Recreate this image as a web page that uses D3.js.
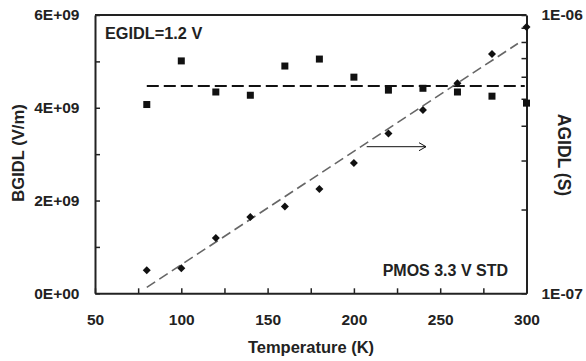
<!DOCTYPE html>
<html>
<head>
<meta charset="utf-8">
<script src="https://cdn.jsdelivr.net/npm/d3@7"></script>
<style>
  body { margin: 0; background: #fff; }
  svg text { font-family: "Liberation Sans", Arial, sans-serif; font-weight: bold; fill: #222; }
</style>
</head>
<body>
<div id="chart"></div>
<script>
// data
const temps = [80, 100, 120, 140, 160, 180, 200, 220, 240, 260, 280, 300];
const bgidl = [4.07e9, 5.01e9, 4.34e9, 4.27e9, 4.90e9, 5.05e9, 4.66e9, 4.38e9, 4.42e9, 4.34e9, 4.25e9, 4.10e9];
const agidl = [1.21e-7, 1.23e-7, 1.58e-7, 1.88e-7, 2.05e-7, 2.37e-7, 2.94e-7, 3.75e-7, 4.56e-7, 5.68e-7, 7.24e-7, 9.05e-7];
const bgidlMean = 4.47e9;
const agidlFit = [[80, 1.05e-7], [295, 7.9e-7]];
const xTicks = [50, 75, 100, 125, 150, 175, 200, 225, 250, 275, 300];
const yLeftTicks = [0, 1e9, 2e9, 3e9, 4e9, 5e9, 6e9];
const yRightTicks = [1e-7, 2e-7, 3e-7, 4e-7, 5e-7, 6e-7, 7e-7, 8e-7, 9e-7, 1e-6];

const width = 586, height = 361;
const margin = { top: 15, right: 59.5, bottom: 67.7, left: 95 };

const svg = d3.select("#chart").append("svg")
  .attr("width", width).attr("height", height);

const x = d3.scaleLinear().domain([50, 300]).range([margin.left, width - margin.right]);
const yL = d3.scaleLinear().domain([0, 6e9]).range([height - margin.bottom, margin.top]);
const yR = d3.scaleLog().domain([1e-7, 1e-6]).range([height - margin.bottom, margin.top]);

// frame top line
svg.append("line")
  .attr("x1", x(50)).attr("x2", x(300))
  .attr("y1", margin.top).attr("y2", margin.top)
  .attr("stroke", "#222").attr("stroke-width", 2);

// axes
const xAxis = svg.append("g")
  .attr("transform", `translate(0,${height - margin.bottom})`)
  .call(d3.axisBottom(x).tickValues(xTicks).tickSizeInner(-5).tickSizeOuter(0).tickPadding(21)
    .tickFormat(d => d % 50 === 0 ? d : ""));

const leftAxis = svg.append("g")
  .attr("transform", `translate(${margin.left},0)`)
  .call(d3.axisLeft(yL).tickValues(yLeftTicks).tickSizeInner(-5).tickSizeOuter(0).tickPadding(15.5)
    .tickFormat(d => d % 2e9 !== 0 ? "" : (d === 0 ? "0E+00" : (d / 1e9) + "E+09")));

const rightAxis = svg.append("g")
  .attr("transform", `translate(${width - margin.right},0)`)
  .call(d3.axisRight(yR).tickValues(yRightTicks).tickSizeInner(-5).tickSizeOuter(0).tickPadding(15)
    .tickFormat(d => d === 1e-7 ? "1E-07" : d === 1e-6 ? "1E-06" : ""));

[xAxis, leftAxis, rightAxis].forEach(g => {
  g.select(".domain").attr("stroke", "#222").attr("stroke-width", 2);
  g.selectAll(".tick line").attr("stroke", "#222").attr("stroke-width", 1.5);
  g.selectAll(".tick text").attr("font-size", 15.5).attr("fill", "#222")
    .style("font-family", "'Liberation Sans', Arial, sans-serif").style("font-weight", "bold");
});

// fit lines
svg.append("line")
  .attr("x1", x(80)).attr("x2", x(299))
  .attr("y1", yL(bgidlMean)).attr("y2", yL(bgidlMean))
  .attr("stroke", "#111").attr("stroke-width", 2)
  .attr("stroke-dasharray", "12,5");

svg.append("path")
  .datum(agidlFit)
  .attr("d", d3.line().x(d => x(d[0])).y(d => yR(d[1])))
  .attr("fill", "none").attr("stroke", "#666").attr("stroke-width", 1.6)
  .attr("stroke-dasharray", "10,5");

// squares (BGIDL)
svg.selectAll("rect.sq")
  .data(temps.map((t, i) => [t, bgidl[i]]))
  .join("rect")
  .attr("class", "sq")
  .attr("x", d => x(d[0]) - 3.5).attr("y", d => yL(d[1]) - 3.5)
  .attr("width", 7).attr("height", 7)
  .attr("fill", "#111");

// diamonds (AGIDL)
svg.selectAll("path.dm")
  .data(temps.map((t, i) => [t, agidl[i]]))
  .join("path")
  .attr("class", "dm")
  .attr("transform", d => `translate(${x(d[0])},${yR(d[1])})`)
  .attr("d", "M0,-4L4,0L0,4L-4,0Z")
  .attr("fill", "#111");

// arrow pointing to right axis
const ay = 146.7;
svg.append("line")
  .attr("x1", 366.7).attr("x2", 426).attr("y1", ay).attr("y2", ay)
  .attr("stroke", "#111").attr("stroke-width", 1);
svg.append("path")
  .attr("d", `M419,${ay - 4}L426,${ay}L419,${ay + 4}`)
  .attr("fill", "none").attr("stroke", "#111").attr("stroke-width", 1);

// annotations
svg.append("text").attr("x", 105).attr("y", 39.3).attr("font-size", 16.3).text("EGIDL=1.2 V");
svg.append("text").attr("x", 508).attr("y", 275.7).attr("font-size", 16)
  .attr("text-anchor", "end").text("PMOS 3.3 V STD");

// axis titles
svg.append("text").attr("x", 311).attr("y", 353.3).attr("font-size", 16.5)
  .attr("text-anchor", "middle").text("Temperature (K)");
svg.append("text").attr("transform", "translate(24,153) rotate(-90)").attr("font-size", 16.6)
  .attr("text-anchor", "middle").text("BGIDL (V/m)");
svg.append("text").attr("transform", "translate(558,155) rotate(90)").attr("font-size", 17.5)
  .attr("text-anchor", "middle").text("AGIDL (S)");
</script>
</body>
</html>
